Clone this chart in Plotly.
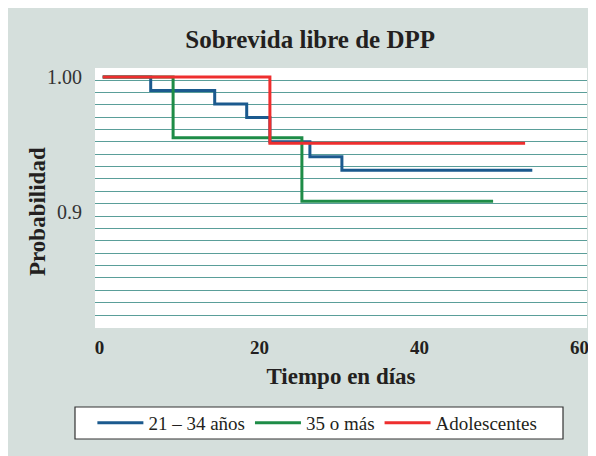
import plotly.graph_objects as go

# ---- data ----
series_names = ["21 – 34 años", "35 o más", "Adolescentes"]
blue_x = [0.4, 6.4, 14.4, 18.4, 21.3, 26.3, 30.3, 54.1]
blue_y = [1.0, 0.99, 0.98, 0.97, 0.952, 0.941, 0.931, 0.931]
green_x = [0.4, 9.2, 25.3, 49.2]
green_y = [1.0, 0.955, 0.908, 0.908]
red_x = [0.4, 21.3, 53.2]
red_y = [1.0, 0.951, 0.951]

x_tickvals = [0, 20, 40, 60]
y_tickvals = [0.9, 1.0]
y_ticktext = ["0.9", "1.00"]
grid_start = 0.997778
grid_step = 0.009163
grid_vals = [grid_start - k * grid_step for k in range(20)]

colors = ["#1b5a8e", "#1e8c47", "#ee2e2e"]
BG = "#d5dfdc"
FONT = "Liberation Serif, Times New Roman, DejaVu Serif, serif"
TXT = "#231f20"

fig = go.Figure()
for xs, ys, name, c in [(blue_x, blue_y, series_names[0], colors[0]),
                        (green_x, green_y, series_names[1], colors[1]),
                        (red_x, red_y, series_names[2], colors[2])]:
    fig.add_trace(go.Scatter(x=xs, y=ys, mode="lines", name=name,
                             line=dict(color=c, width=3, shape="hv")))

fig.update_layout(
    width=596, height=456,
    margin=dict(l=87, r=17, t=60, b=136, autoexpand=False),
    paper_bgcolor=BG, plot_bgcolor="white",
    font=dict(family=FONT, color=TXT),
    title=dict(text="<b>Sobrevida libre de DPP</b>", x=0.507, xanchor="center",
               y=1 - 31 / 456, yanchor="middle", yref="container",
               font=dict(size=25, family=FONT, color=TXT)),
    xaxis=dict(range=[-0.5625, 60.9375], tickvals=x_tickvals,
               ticktext=["<b>%d</b>" % v for v in x_tickvals],
               showgrid=False, zeroline=False, showline=False, automargin=False,
               ticks="", ticklabelstandoff=6,
               tickfont=dict(size=19, family=FONT, color=TXT),
               title=dict(text="<b>Tiempo en días</b>", standoff=10,
                          font=dict(size=23, family=FONT, color=TXT))),
    yaxis=dict(range=[0.81407, 1.00667], tickvals=y_tickvals, ticktext=y_ticktext,
               showgrid=False, zeroline=False, showline=False, automargin=False,
               ticks="", ticklabelstandoff=12,
               tickfont=dict(size=20, family=FONT, color="#333333"),
               minor=dict(tickmode="array", tickvals=grid_vals, showgrid=True,
                          gridcolor="#5a9e99", gridwidth=1.2, ticks="")),
    legend=dict(orientation="h", x=0.452, xanchor="center",
                y=(320 - 415) / 260, yanchor="middle",
                bgcolor="rgba(0,0,0,0)", borderwidth=0, itemwidth=46,
                font=dict(size=19, family=FONT, color=TXT)),
    annotations=[dict(text="<b>Probabilidad</b>", textangle=-90,
                      xref="paper", yref="paper",
                      x=(29 - 87) / 492, y=(320 - 204) / 260,
                      xanchor="center", yanchor="middle", showarrow=False,
                      font=dict(size=23, family=FONT, color=TXT))],
    shapes=[dict(type="rect", xref="paper", yref="paper", layer="above",
                 x0=(67 - 87) / 492, x1=(555 - 87) / 492,
                 y0=(320 - 431) / 260, y1=(320 - 399) / 260,
                 fillcolor="white", line=dict(color="#333333", width=1.2))],
)

fig.write_html("out.html")
